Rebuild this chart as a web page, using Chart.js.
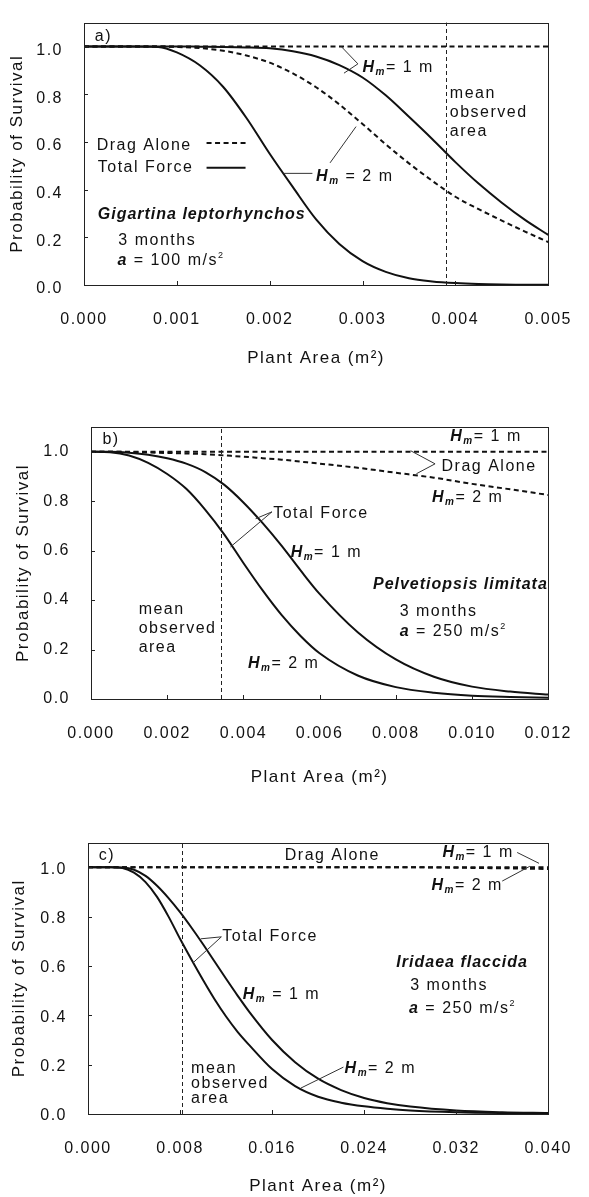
<!DOCTYPE html>
<html>
<head>
<meta charset="utf-8">
<script src="https://cdn.jsdelivr.net/npm/chart.js@4"></script>
<style>
  html, body { margin: 0; padding: 0; background: #fff; }
  body { width: 589px; height: 1197px; position: relative; overflow: hidden; }
  canvas { position: absolute; left: 0; }
</style>
</head>
<body>
<canvas id="panelA" width="589" height="395" style="top:0"></canvas>
<canvas id="panelB" width="589" height="420" style="top:400px"></canvas>
<canvas id="panelC" width="589" height="377" style="top:820px"></canvas>
<script>
// a) Gigartina leptorhynchos, a = 100 m/s2
const areaA = [0, 0.0005, 0.0008, 0.001, 0.00125, 0.0015, 0.00175, 0.002, 0.00225, 0.0025, 0.00275, 0.003, 0.00325, 0.0035, 0.00375, 0.004, 0.00425, 0.0045, 0.00475, 0.005];
const dragA1 = [1, 1, 1, 1, 1, 1, 1, 1, 1, 1, 1, 1, 1, 1, 1, 1, 1, 1, 1, 1];
const dragA2 = [1, 1, 1, 0.998, 0.993, 0.982, 0.962, 0.932, 0.887, 0.829, 0.757, 0.675, 0.59, 0.51, 0.437, 0.37, 0.318, 0.27, 0.224, 0.18];
const totalA1 = [1, 1, 1, 1, 0.999, 0.998, 0.996, 0.992, 0.98, 0.958, 0.922, 0.87, 0.795, 0.705, 0.612, 0.515, 0.425, 0.345, 0.273, 0.21];
const totalA2 = [1, 1, 0.998, 0.975, 0.92, 0.83, 0.70, 0.55, 0.41, 0.275, 0.172, 0.10, 0.055, 0.028, 0.015, 0.008, 0.004, 0.002, 0.001, 0.001];
const meanA = 0.0039;

// b) Pelvetiopsis limitata, a = 250 m/s2
const areaB = [0, 0.0005, 0.001, 0.0015, 0.002, 0.0025, 0.003, 0.0035, 0.004, 0.0045, 0.005, 0.0055, 0.006, 0.007, 0.008, 0.009, 0.01, 0.011, 0.012];
const dragB1 = [1, 1, 1, 1, 1, 1, 1, 1, 1, 1, 1, 1, 1, 1, 1, 1, 1, 1, 1];
const dragB2 = [1, 1, 0.999, 0.997, 0.995, 0.993, 0.99, 0.985, 0.98, 0.974, 0.968, 0.96, 0.952, 0.935, 0.915, 0.895, 0.87, 0.848, 0.825];
const totalB1 = [1, 1, 0.996, 0.988, 0.974, 0.952, 0.918, 0.866, 0.795, 0.712, 0.62, 0.52, 0.425, 0.27, 0.16, 0.09, 0.05, 0.03, 0.018];
const totalB2 = [1, 0.998, 0.985, 0.955, 0.91, 0.85, 0.765, 0.665, 0.55, 0.44, 0.34, 0.255, 0.185, 0.095, 0.048, 0.025, 0.013, 0.008, 0.005];
const meanB = 0.00342;

// c) Iridaea flaccida, a = 250 m/s2
const areaC = [0, 0.002, 0.003, 0.004, 0.005, 0.006, 0.007, 0.008, 0.009, 0.01, 0.011, 0.012, 0.013, 0.014, 0.016, 0.018, 0.02, 0.022, 0.024, 0.026, 0.028, 0.032, 0.036, 0.04];
const dragC1 = [1, 1, 1, 1, 1, 1, 1, 1, 1, 1, 1, 1, 1, 1, 1, 1, 1, 1, 1, 1, 1, 1, 1, 1];
const dragC2 = [1, 1, 1, 1, 1, 1, 1, 1, 1, 1, 1, 1, 1, 1, 1, 1, 1, 1, 1, 1, 1, 0.998, 0.996, 0.993];
const totalC1 = [1, 1, 0.999, 0.99, 0.965, 0.925, 0.875, 0.818, 0.755, 0.688, 0.618, 0.548, 0.48, 0.415, 0.30, 0.21, 0.143, 0.097, 0.065, 0.044, 0.03, 0.014, 0.007, 0.004];
const totalC2 = [1, 1, 0.997, 0.978, 0.94, 0.88, 0.80, 0.71, 0.625, 0.543, 0.465, 0.395, 0.333, 0.28, 0.182, 0.113, 0.07, 0.046, 0.031, 0.021, 0.014, 0.007, 0.004, 0.003];
const meanC = 0.0082;

const yTicks = [0, 0.2, 0.4, 0.6, 0.8, 1.0];

const FONT = '"Liberation Sans", Arial, Helvetica, sans-serif';
Chart.defaults.font.family = FONT;
Chart.defaults.font.size = 16;
Chart.defaults.color = "#111";

// rich text pieces
const hm = (rest) => [{ t: "H", s: "italic bold" }, { t: "m", s: "italic bold", size: 10, dy: 3 }, { t: rest }];
const accel = (val) => [{ t: "a", s: "italic bold" }, { t: ` = ${val} m/s` }, { t: "2", size: 9, dy: -7 }];
const plain = (t) => [{ t }];
const species = (t) => [{ t, s: "italic bold", ls: "1px" }];

const drawRuns = (ctx, runs, x, y) => {
  let cx = x;
  runs.forEach((r) => {
    ctx.font = `${r.s || ""} ${r.size || 16}px ${FONT}`;
    ctx.letterSpacing = r.ls || "1.5px";
    ctx.fillText(r.t, cx, y + (r.dy || 0));
    cx += ctx.measureText(r.t).width;
  });
};

const panelDecor = {
  id: "panelDecor",
  beforeLayout(chart) {
    chart.ctx.letterSpacing = "1.5px";
  },
  beforeDraw(chart) {
    chart.ctx.letterSpacing = "1.5px";
  },
  afterDatasetsDraw(chart, args, p) {
    const { ctx, chartArea: a, scales: { x, y } } = chart;
    const px = (v) => x.getPixelForValue(v);
    const py = (v) => y.getPixelForValue(v);
    ctx.save();

    // frame
    ctx.strokeStyle = "#222";
    ctx.lineWidth = 1;
    ctx.setLineDash([]);
    ctx.strokeRect(Math.round(a.left) + 0.5, Math.round(a.top) + 0.5, Math.round(a.width), Math.round(a.height));

    // inward tick marks
    ctx.beginPath();
    x.ticks.forEach((t) => {
      const X = Math.round(px(t.value)) + 0.5;
      ctx.moveTo(X, a.bottom);
      ctx.lineTo(X, a.bottom - 4);
    });
    y.ticks.forEach((t) => {
      const Y = Math.round(py(t.value)) + 0.5;
      ctx.moveTo(a.left, Y);
      ctx.lineTo(a.left + 4, Y);
    });
    ctx.stroke();

    // mean observed area
    ctx.setLineDash([4, 3]);
    ctx.beginPath();
    const mx = Math.round(px(p.mean)) + 0.5;
    ctx.moveTo(mx, py(0));
    ctx.lineTo(mx, a.top);
    ctx.stroke();

    // pointer lines
    ctx.setLineDash([]);
    ctx.strokeStyle = "#333";
    p.pointers.forEach((pts) => {
      ctx.beginPath();
      pts.forEach(([vx, vy], i) => (i ? ctx.lineTo(px(vx), py(vy)) : ctx.moveTo(px(vx), py(vy))));
      ctx.stroke();
    });

    // legend samples
    ctx.strokeStyle = "#111";
    ctx.lineWidth = 2;
    (p.samples || []).forEach((s) => {
      ctx.setLineDash(s.dashed ? [5, 3.5] : []);
      ctx.beginPath();
      ctx.moveTo(px(s.x1), py(s.y));
      ctx.lineTo(px(s.x2), py(s.y));
      ctx.stroke();
    });

    // text notes
    ctx.fillStyle = "#111";
    ctx.textAlign = "left";
    ctx.textBaseline = "alphabetic";
    p.notes.forEach((n) => {
      const base = py(n.y) + 6;
      n.lines.forEach((runs, i) => drawRuns(ctx, runs, px(n.x), base + i * (n.lh || 19)));
    });

    ctx.restore();
    ctx.letterSpacing = "1.5px";
  },
};

const makePanel = (id, p) => {
  const series = (ys, dashed) => ({
    data: p.area.map((v, i) => ({ x: v, y: ys[i] })),
    borderColor: "#111",
    borderWidth: 2,
    borderDash: dashed ? [5, 3.5] : [],
    pointRadius: 0,
    cubicInterpolationMode: "monotone",
    fill: false,
  });
  return new Chart(document.getElementById(id), {
    type: "line",
    data: {
      datasets: [series(p.drag1, true), series(p.drag2, true), series(p.total1, false), series(p.total2, false)],
    },
    options: {
      responsive: false,
      animation: false,
      events: [],
      layout: { padding: { top: p.padTop, right: 589 - p.right, bottom: 0, left: 0 } },
      plugins: { legend: { display: false }, tooltip: { enabled: false }, panelDecor: p },
      scales: {
        x: {
          type: "linear",
          min: 0,
          max: p.xMax,
          grid: { display: false },
          border: { display: false },
          ticks: {
            stepSize: p.xStep,
            padding: 17,
            maxRotation: 0,
            autoSkip: false,
            color: "#111",
            callback: (v) => v.toFixed(3),
          },
          title: { display: true, text: "Plant Area (m²)", color: "#111", font: { size: 17 }, padding: { top: 0, bottom: p.titlePad } },
          afterFit: (s) => { s.height = p.xAxisH; },
        },
        y: {
          type: "linear",
          min: 0,
          max: 1.1,
          grid: { display: false },
          border: { display: false },
          afterBuildTicks: (s) => { s.ticks = yTicks.map((v) => ({ value: v })); },
          ticks: { padding: 13, labelOffset: p.labelOffset, color: "#111", callback: (v) => v.toFixed(1) },
          title: { display: true, text: "Probability of Survival", color: "#111", font: { size: 17 }, padding: { top: p.yTitlePad, bottom: 0 } },
          afterFit: (s) => { s.width = p.left; },
        },
      },
    },
    plugins: [panelDecor],
  });
};

makePanel("panelA", {
  area: areaA, drag1: dragA1, drag2: dragA2, total1: totalA1, total2: totalA2, mean: meanA,
  xMax: 0.005, xStep: 0.001,
  padTop: 10, left: 84, right: 557, xAxisH: 110, titlePad: 26, yTitlePad: 7, labelOffset: 4,
  pointers: [
    [[0.00277, 1.0], [0.00295, 0.927], [0.0028, 0.888]],
    [[0.00215, 0.468], [0.00246, 0.468]],
    [[0.00293, 0.664], [0.00265, 0.512]],
  ],
  samples: [
    { x1: 0.00132, x2: 0.00174, y: 0.595, dashed: true },
    { x1: 0.00132, x2: 0.00174, y: 0.492, dashed: false },
  ],
  notes: [
    { x: 0.000116, y: 1.048, lines: [plain("a)")] },
    { x: 0.0030, y: 0.92, lines: [hm("= 1 m")] },
    { x: 0.00394, y: 0.808, lines: [plain("mean"), plain("observed"), plain("area")] },
    { x: 0.0025, y: 0.46, lines: [hm(" = 2 m")] },
    { x: 0.000137, y: 0.592, lines: [plain("Drag Alone")] },
    { x: 0.000148, y: 0.50, lines: [plain("Total Force")] },
    { x: 0.000148, y: 0.30, lines: [species("Gigartina leptorhynchos")] },
    { x: 0.00037, y: 0.192, lines: [plain("3 months")] },
    { x: 0.00036, y: 0.108, lines: [accel("100")] },
  ],
});

makePanel("panelB", {
  area: areaB, drag1: dragB1, drag2: dragB2, total1: totalB1, total2: totalB2, mean: meanB,
  xMax: 0.012, xStep: 0.002,
  padTop: 27, left: 91, right: 563, xAxisH: 121, titlePad: 32, yTitlePad: 13, labelOffset: 0,
  pointers: [
    [[0.00839, 1.004], [0.00903, 0.951], [0.00854, 0.911]],
    [[0.00432, 0.729], [0.00475, 0.757], [0.00366, 0.615]],
  ],
  notes: [
    { x: 0.0003, y: 1.057, lines: [plain("b)")] },
    { x: 0.00943, y: 1.069, lines: [hm("= 1 m")] },
    { x: 0.0092, y: 0.947, lines: [plain("Drag Alone")] },
    { x: 0.00895, y: 0.822, lines: [hm("= 2 m")] },
    { x: 0.00478, y: 0.757, lines: [plain("Total Force")] },
    { x: 0.00524, y: 0.60, lines: [hm("= 1 m")] },
    { x: 0.0074, y: 0.47, lines: [species("Pelvetiopsis limitata")] },
    { x: 0.0081, y: 0.36, lines: [plain("3 months")] },
    { x: 0.0081, y: 0.28, lines: [accel("250")] },
    { x: 0.00125, y: 0.368, lines: [plain("mean"), plain("observed"), plain("area")] },
    { x: 0.00412, y: 0.15, lines: [hm("= 2 m")] },
  ],
});

makePanel("panelC", {
  area: areaC, drag1: dragC1, drag2: dragC2, total1: totalC1, total2: totalC2, mean: meanC,
  xMax: 0.04, xStep: 0.008,
  padTop: 21, left: 88, right: 561, xAxisH: 83, titlePad: 0, yTitlePad: 9, labelOffset: 2,
  pointers: [
    [[0.0373, 1.06], [0.0392, 1.016]],
    [[0.036, 0.944], [0.0384, 1.004]],
    [[0.0098, 0.71], [0.01159, 0.718], [0.00913, 0.613]],
    [[0.0185, 0.105], [0.0222, 0.19]],
  ],
  notes: [
    { x: 0.00093, y: 1.052, lines: [plain("c)")] },
    { x: 0.0171, y: 1.052, lines: [plain("Drag Alone")] },
    { x: 0.0308, y: 1.065, lines: [hm("= 1 m")] },
    { x: 0.02985, y: 0.931, lines: [hm("= 2 m")] },
    { x: 0.01167, y: 0.726, lines: [plain("Total Force")] },
    { x: 0.01345, y: 0.492, lines: [hm(" = 1 m")] },
    { x: 0.0268, y: 0.621, lines: [species("Iridaea flaccida")] },
    { x: 0.028, y: 0.528, lines: [plain("3 months")] },
    { x: 0.0279, y: 0.435, lines: [accel("250")] },
    { x: 0.00896, y: 0.19, lines: [plain("mean"), plain("observed"), plain("area")], lh: 15 },
    { x: 0.0223, y: 0.19, lines: [hm("= 2 m")] },
  ],
});
</script>
</body>
</html>
